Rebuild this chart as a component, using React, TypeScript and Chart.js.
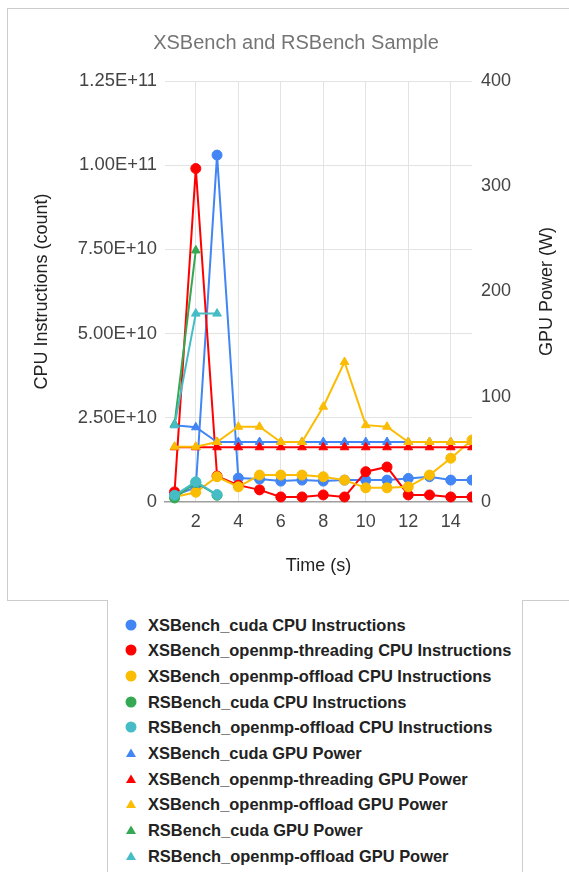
import React, { useEffect, useRef } from "react";
import { Chart, registerables } from "chart.js";

Chart.register(...registerables);

// ---------- data ----------
const timeSeconds = [1, 2, 3, 4, 5, 6, 7, 8, 9, 10, 11, 12, 13, 14, 15];
const xTickValues = [2, 4, 6, 8, 10, 12, 14];
const cpuTickValues = [0, 2.5e10, 5e10, 7.5e10, 1e11, 1.25e11];
const cpuTickLabels = ["0", "2.50E+10", "5.00E+10", "7.50E+10", "1.00E+11", "1.25E+11"];
const gpuTickValues = [0, 100, 200, 300, 400];
const gpuTickLabels = ["0", "100", "200", "300", "400"];

const chartTitle = "XSBench and RSBench Sample";
const xAxisTitle = "Time (s)";
const cpuAxisTitle = "CPU Instructions (count)";
const gpuAxisTitle = "GPU Power (W)";

const seriesNames = [
  "XSBench_cuda CPU Instructions",
  "XSBench_openmp-threading CPU Instructions",
  "XSBench_openmp-offload CPU Instructions",
  "RSBench_cuda CPU Instructions",
  "RSBench_openmp-offload CPU Instructions",
  "XSBench_cuda GPU Power",
  "XSBench_openmp-threading GPU Power",
  "XSBench_openmp-offload GPU Power",
  "RSBench_cuda GPU Power",
  "RSBench_openmp-offload GPU Power",
];
const seriesColors = [
  "#4285F4", "#FF0000", "#FBBC04", "#34A853", "#46BDC6",
  "#4285F4", "#FF0000", "#FBBC04", "#34A853", "#46BDC6",
];

// CPU instructions (count)
const xsCudaCpu = [2.0e9, 4.3e9, 1.03e11, 7.1e9, 6.8e9, 6.2e9, 6.5e9, 6.2e9, 6.5e9, 6.5e9, 6.5e9, 7.0e9, 7.5e9, 6.5e9, 6.5e9];
const xsThreadCpu = [3.0e9, 9.9e10, 7.7e9, 5.0e9, 3.6e9, 1.5e9, 1.5e9, 2.1e9, 1.5e9, 9.0e9, 1.04e10, 2.1e9, 2.1e9, 1.5e9, 1.5e9];
const xsOffloadCpu = [1.5e9, 2.9e9, 7.5e9, 4.5e9, 8.0e9, 8.0e9, 8.0e9, 7.5e9, 6.5e9, 4.2e9, 4.2e9, 4.5e9, 8.0e9, 1.3e10, 1.84e10];
const rsCudaCpu = [1.2e9, 5.8e9, 2.0e9];
const rsOffloadCpu = [2.0e9, 6.0e9, 2.2e9];

// GPU power (W)
const xsCudaGpu = [73, 71, 57, 57, 57, 57, 57, 57, 57, 57, 57, 57, 57, 57, 57];
const xsThreadGpu = [52, 52, 52, 52, 52, 52, 52, 52, 52, 52, 52, 52, 52, 52, 52];
const xsOffloadGpu = [52.5, 52.5, 57, 71.5, 71.5, 57, 57, 90.5, 133, 73, 71.5, 57, 57, 57, 57];
const rsCudaGpu = [74, 239];
const rsOffloadGpu = [73, 179, 179];

const seriesValues = [
  xsCudaCpu, xsThreadCpu, xsOffloadCpu, rsCudaCpu, rsOffloadCpu,
  xsCudaGpu, xsThreadGpu, xsOffloadGpu, rsCudaGpu, rsOffloadGpu,
];

const FONT = "'Liberation Sans', Arial, sans-serif";

const rightTitlePlugin = {
  id: "rightTitle",
  afterDraw(chart: any) {
    const { ctx, chartArea } = chart;
    const scale = chart.scales.yGpu;
    ctx.save();
    ctx.font = `18px ${FONT}`;
    ctx.fillStyle = "#222222";
    ctx.textAlign = "center";
    ctx.textBaseline = "middle";
    ctx.translate(scale.right - 37, (chartArea.top + chartArea.bottom) / 2);
    ctx.rotate(-Math.PI / 2);
    ctx.fillText(gpuAxisTitle, 0, 0);
    ctx.restore();
  },
};

export default function App() {
  const canvasRef = useRef<HTMLCanvasElement>(null);

  useEffect(() => {
    Chart.defaults.font.family = FONT;
    const datasets = seriesValues.map((vals, i) => {
      const isCpu = i < 5;
      return {
        label: seriesNames[i],
        data: vals
          .map((v, j) => ({ x: timeSeconds[j], y: v }))
          .filter((p) => p.y !== null && p.y !== undefined),
        yAxisID: isCpu ? "yCpu" : "yGpu",
        borderColor: seriesColors[i],
        backgroundColor: seriesColors[i],
        pointBackgroundColor: seriesColors[i],
        pointBorderColor: seriesColors[i],
        pointStyle: isCpu ? "circle" : "triangle",
        pointRadius: 5,
        pointBorderWidth: 1,
        borderWidth: 2,
        tension: 0,
        order: 20 - i,
        clip: { left: false, top: false, right: 0, bottom: false },
      };
    });

    const chart = new Chart(canvasRef.current as HTMLCanvasElement, {
      type: "line",
      data: { datasets } as any,
      plugins: [rightTitlePlugin],
      options: {
        responsive: false,
        maintainAspectRatio: false,
        animation: false,
        devicePixelRatio: 1,
        layout: { padding: 0 },
        plugins: {
          legend: { display: false },
          tooltip: { enabled: false },
          title: {
            display: true,
            text: chartTitle,
            color: "#757575",
            font: { size: 20, weight: "normal", family: FONT },
            padding: { top: 22, bottom: 26 },
          },
        },
        scales: {
          x: {
            type: "linear",
            min: 0.55,
            max: 15,
            afterFit: (s: any) => {
              s.height = 98;
            },
            afterBuildTicks: (s: any) => {
              s.ticks = xTickValues.map((v) => ({ value: v }));
            },
            ticks: {
              autoSkip: false,
              maxRotation: 0,
              padding: 9,
              color: "#444444",
              font: { size: 18 },
              callback: (v: any) => String(v),
            },
            grid: { color: "#e3e3e3", drawTicks: false, lineWidth: 1 },
            border: { display: true, color: "#9e9e9e", width: 1.5 },
            title: {
              display: true,
              text: xAxisTitle,
              color: "#222222",
              font: { size: 18 },
              padding: { top: 0, bottom: 23 },
            },
          },
          yCpu: {
            type: "linear",
            position: "left",
            min: 0,
            max: 1.25e11,
            afterFit: (s: any) => {
              s.width = 157;
            },
            afterBuildTicks: (s: any) => {
              s.ticks = cpuTickValues.map((v) => ({ value: v }));
            },
            ticks: {
              padding: 8,
              color: "#444444",
              font: { size: 18.4 },
              callback: (v: any) => cpuTickLabels[cpuTickValues.indexOf(Number(v))],
            },
            grid: {
              drawTicks: false,
              color: (c: any) => (c.tick && c.tick.value === 0 ? "rgba(0,0,0,0)" : "#e3e3e3"),
            },
            border: { display: false },
            title: {
              display: true,
              text: cpuAxisTitle,
              color: "#222222",
              font: { size: 18 },
              padding: { top: 23, bottom: 0 },
            },
          },
          yGpu: {
            type: "linear",
            position: "right",
            min: 0,
            max: 400,
            afterFit: (s: any) => {
              s.width = 112;
            },
            afterBuildTicks: (s: any) => {
              s.ticks = gpuTickValues.map((v) => ({ value: v }));
            },
            ticks: {
              padding: 9,
              color: "#444444",
              font: { size: 18 },
              callback: (v: any) => gpuTickLabels[gpuTickValues.indexOf(Number(v))],
            },
            grid: { display: false, drawTicks: false },
            border: { display: false },
          },
        },
      } as any,
    });
    return () => chart.destroy();
  }, []);

  const line = (left: number, top: number, width: number, height: number, key: string) => (
    <div
      key={key}
      style={{ position: "absolute", left, top, width, height, background: "#cccccc" }}
    />
  );

  return (
    <div
      style={{
        position: "fixed",
        left: 0,
        top: 0,
        width: 569,
        height: 872,
        overflow: "hidden",
        background: "#ffffff",
        fontFamily: FONT,
      }}
    >
      {line(7, 8, 562, 1, "t")}
      {line(7, 8, 1, 593, "l")}
      {line(7, 600, 101, 1, "b1")}
      {line(522, 600, 47, 1, "b2")}
      {line(107, 600, 1, 272, "ll")}
      {line(522, 600, 1, 272, "lr")}
      <canvas
        ref={canvasRef}
        width={576}
        height={591}
        style={{ position: "absolute", left: 8, top: 9, width: 576, height: 591 }}
      />
      {seriesNames.map((name, i) => {
        const cy = 624.5 + i * 25.7;
        const isCpu = i < 5;
        return (
          <div
            key={name}
            style={{
              position: "absolute",
              left: 124,
              top: cy - 10,
              height: 20,
              display: "flex",
              alignItems: "center",
              whiteSpace: "nowrap",
            }}
          >
            <svg width={14} height={14} style={{ display: "block" }}>
              {isCpu ? (
                <circle cx={7} cy={7} r={5.5} fill={seriesColors[i]} />
              ) : (
                <polygon points="7,2.5 12,11 2,11" fill={seriesColors[i]} />
              )}
            </svg>
            <span
              style={{
                marginLeft: 10,
                fontSize: 16.45,
                fontWeight: "bold",
                color: "#222222",
                lineHeight: "20px",
              }}
            >
              {name}
            </span>
          </div>
        );
      })}
    </div>
  );
}
